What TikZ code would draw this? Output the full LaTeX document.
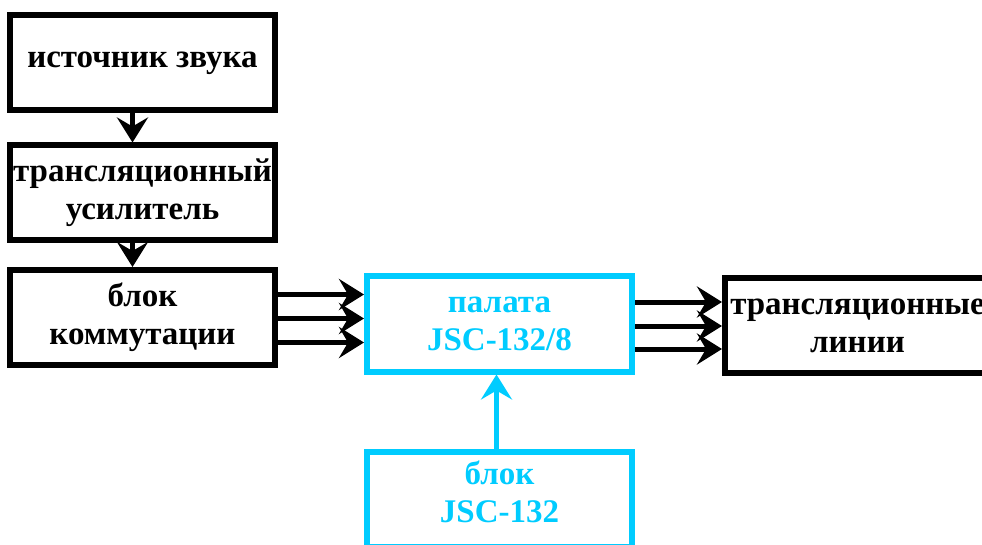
\documentclass[tikz,border=0pt]{standalone}
\usepackage{fontspec}
\setmainfont{Liberation Serif}
\usetikzlibrary{arrows.meta,calc}
\definecolor{jscblue}{RGB}{0,204,255}

\begin{document}
\begin{tikzpicture}[
  x=1pt, y=-1pt,
  font=\fontsize{33}{38}\selectfont\bfseries,
  >={Stealth[length=25pt, width=31pt, inset=9pt]},
  box/.style={draw, line width=6pt, minimum width=265pt, minimum height=95pt,
              inner sep=0pt, align=center, fill=white},
  cbox/.style={box, draw=jscblue, text=jscblue},
  arr/.style={->, line width=5pt}
]
\useasboundingbox (0,0) rectangle (982,545);
\clip (0,0) rectangle (982,545);

% ---------- блоки ----------
\node[box]  (src)  at (142.5,63)    {источник звука};
\node[box]  (amp)  at (142.5,193)   {трансляционный\\ усилитель};
\node[box]  (comm) at (142.5,317.5) {блок\\ коммутации};
\node[cbox] (pal)  at (499.5,324)   {палата\\ JSC-132/8};
\node[box]  (line) at (857.5,325.5) {трансляционные\\ линии};
\node[cbox, text depth=15pt] (jsc) at (499.5,499.5) {блок\\ JSC-132};

% ---------- вертикальная цепочка ----------
\draw[arr] ([xshift=-10pt]src.south) -- ([xshift=-10pt]amp.north);
\draw[arr] ([xshift=-10pt]amp.south) -- ([xshift=-10pt]comm.north);

% ---------- по три линии между блоками ----------
\foreach \d in {23,-1,-25}
  \draw[arr] ([yshift=\d pt]comm.east) -- ([yshift=\d pt]comm.east -| pal.west);
\foreach \d in {22,-2,-25}
  \draw[arr] ([yshift=\d pt]pal.east) -- ([yshift=\d pt]pal.east -| line.west);

% ---------- управление от JSC-132 ----------
\draw[arr, jscblue] ([xshift=-3pt]jsc.north) -- ([xshift=-3pt]jsc.north |- pal.south);

\end{tikzpicture}
\end{document}
